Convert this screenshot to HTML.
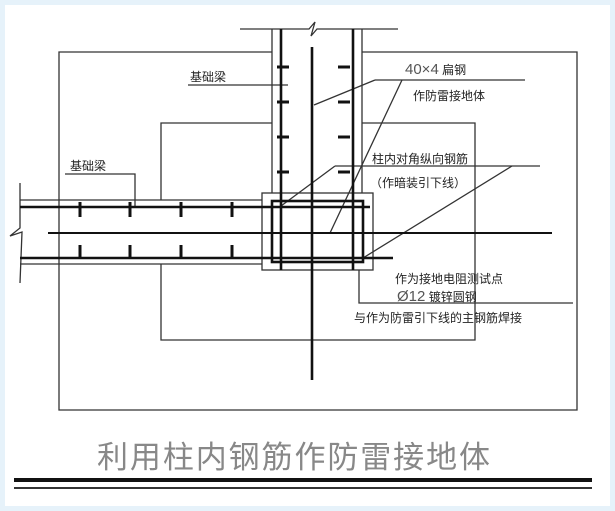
<!DOCTYPE html>
<html><head><meta charset="utf-8"><style>
html,body{margin:0;padding:0;background:#e6f2fa;}
.w{position:absolute;left:5px;top:5px;width:605px;height:501px;background:#fff;}
svg{position:absolute;left:0;top:0;}
text{font-family:"Liberation Sans","Noto Sans CJK SC",sans-serif;fill:#222;}
</style></head><body>
<div class="w"></div>
<svg width="615" height="511" viewBox="0 0 615 511">
<g stroke="#333" stroke-width="1.3" fill="none">
<!-- outer rect -->
<polyline points="272,52 59,52 59,410 577,410 577,52 362,52"/>
<!-- inner rect -->
<polyline points="272,123 161,123 161,200"/>
<polyline points="362,123 475,123 475,340 161,340 161,264"/>
<!-- column -->
<line x1="272" y1="29" x2="272" y2="193"/>
<line x1="362" y1="29" x2="362" y2="193"/>
<polyline points="240,29 309,29 315,22 311,36 317,29 398,29"/>
<!-- beam outlines -->
<line x1="20" y1="200" x2="262" y2="200"/>
<line x1="20" y1="264" x2="262" y2="264"/>
<polyline points="20,183 20,228 10,236 22,232 20,283"/>
<!-- column box -->
<rect x="262" y="193" width="111" height="77"/>
<!-- leaders -->
<line x1="188" y1="85" x2="288" y2="85"/>
<polyline points="65,174 135,174 135,207"/>
<line x1="375" y1="80" x2="525" y2="80"/>
<line x1="375" y1="80" x2="314" y2="105"/>
<line x1="402" y1="80" x2="330" y2="233"/>
<line x1="335" y1="166" x2="540" y2="166"/>
<line x1="335" y1="166" x2="281" y2="206"/>
<line x1="512" y1="166" x2="363" y2="258"/>
<polyline points="359,270 359,303 573,303"/>
</g>
<g stroke="#111" stroke-width="2.6" fill="none">
<line x1="281" y1="29" x2="281" y2="270"/>
<line x1="353" y1="29" x2="353" y2="270"/>
<line x1="312" y1="47" x2="312" y2="380"/>
<line x1="20" y1="207" x2="370" y2="207"/>
<line x1="20" y1="258" x2="393" y2="258"/>
<line x1="48" y1="233" x2="552" y2="233" stroke-width="2"/>
<rect x="272" y="201" width="91" height="61"/>
</g>
<g stroke="#111" stroke-width="3">
<line x1="80" y1="202" x2="80" y2="217"/><line x1="130" y1="202" x2="130" y2="217"/>
<line x1="181" y1="202" x2="181" y2="217"/><line x1="232" y1="202" x2="232" y2="217"/>
<line x1="80" y1="245" x2="80" y2="259"/><line x1="130" y1="245" x2="130" y2="259"/>
<line x1="181" y1="245" x2="181" y2="259"/><line x1="232" y1="245" x2="232" y2="259"/>
<line x1="277" y1="67" x2="289" y2="67"/><line x1="338" y1="67" x2="350" y2="67"/>
<line x1="277" y1="102" x2="289" y2="102"/><line x1="338" y1="102" x2="350" y2="102"/>
<line x1="277" y1="137" x2="289" y2="137"/><line x1="338" y1="137" x2="350" y2="137"/>
<line x1="277" y1="172" x2="289" y2="172"/><line x1="338" y1="172" x2="350" y2="172"/>
</g>
<text x="190" y="81" font-size="12">基础梁</text>
<text x="70" y="170" font-size="12">基础梁</text>
<text x="405" y="74" font-size="15" style="fill:#555">40×4<tspan font-size="12" style="fill:#222"> 扁钢</tspan></text>
<text x="413" y="100" font-size="12">作防雷接地体</text>
<text x="372" y="163" font-size="12">柱内对角纵向钢筋</text>
<text x="370" y="187" font-size="12">（作暗装引下线）</text>
<text x="395" y="283" font-size="12">作为接地电阻测试点</text>
<text x="397" y="301" font-size="15" style="fill:#555">Ø12<tspan font-size="12" style="fill:#222"> 镀锌圆钢</tspan></text>
<text x="354" y="322" font-size="12">与作为防雷引下线的主钢筋焊接</text>
<text x="97" y="468" font-size="31" style="fill:#888" textLength="393">利用柱内钢筋作防雷接地体</text>
<rect x="14" y="478" width="578" height="4" fill="#111"/>
<rect x="14" y="487" width="578" height="2" fill="#333"/>
</svg>
</body></html>
